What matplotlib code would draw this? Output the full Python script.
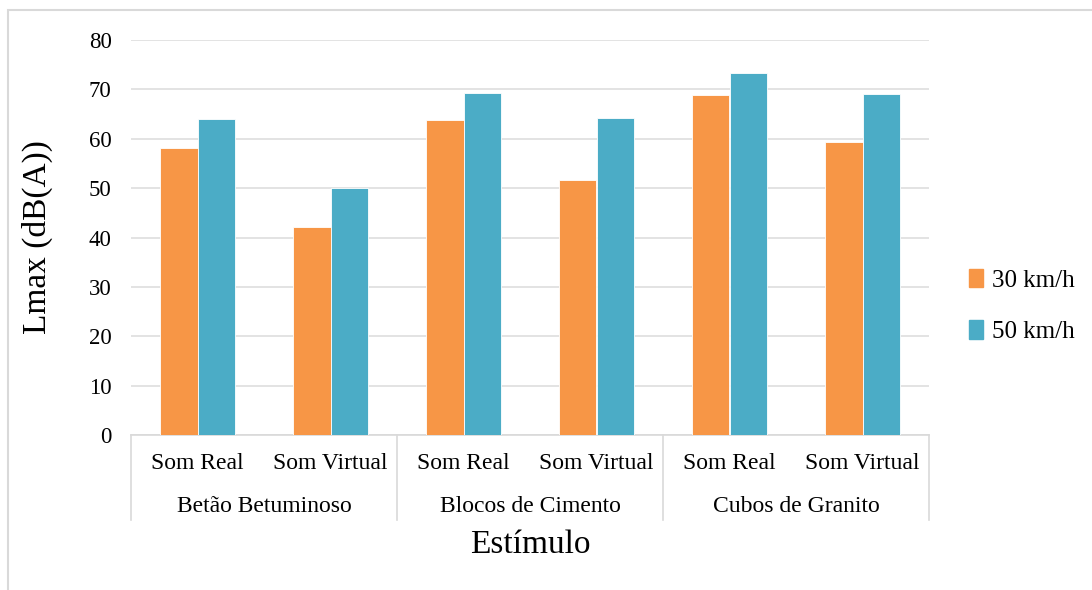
import matplotlib.pyplot as plt
import matplotlib.patches as mpatches
import numpy as np

plt.rcParams['font.family'] = ['Liberation Serif', 'DejaVu Serif']

grupos = ["Betão Betuminoso", "Blocos de Cimento", "Cubos de Granito"]
estimulos = ["Som Real", "Som Virtual"] * 3
v30 = [58.1, 42.2, 63.8, 51.6, 68.8, 59.4]
v50 = [64.0, 50.0, 69.3, 64.3, 73.4, 69.1]
series = ["30 km/h", "50 km/h"]

laranja = "#F79646"
azul = "#4BACC6"

W, H = 1092, 590
fig = plt.figure(figsize=(W / 100, H / 100), dpi=100)
ax = fig.add_axes([131 / W, 1 - 435 / H, 798 / W, 395 / H])

x = np.arange(len(estimulos))
w = 0.282
ax.bar(x - w / 2, v30, w, color=laranja, edgecolor="white", linewidth=0.6, label=series[0], zorder=3)
ax.bar(x + w / 2, v50, w, color=azul, edgecolor="white", linewidth=0.6, label=series[1], zorder=3)

ax.set_xlim(-0.5, len(estimulos) - 0.5)
ax.set_ylim(0, 80)
ax.set_yticks(range(0, 81, 10))
ax.yaxis.grid(True, color="#dedede", linewidth=1.2, zorder=0)
ax.tick_params(axis="y", length=0, labelsize=16.5, pad=14)
ax.set_xticks([])
for s in ["top", "right", "left"]:
    ax.spines[s].set_visible(False)
ax.spines["bottom"].set_color("#d9d9d9")
ax.spines["bottom"].set_linewidth(1.2)

trans = ax.get_xaxis_transform()
for i, lab in enumerate(estimulos):
    ax.text(i, -0.071, lab, transform=trans, ha="center", va="center", fontsize=17)
for g, nome in enumerate(grupos):
    ax.text(2 * g + 0.5, -0.18, nome, transform=trans, ha="center", va="center", fontsize=17)
for xs in [-0.5, 1.5, 3.5, 5.5]:
    ax.plot([xs, xs], [0, -0.215], transform=trans, color="#d9d9d9", linewidth=1.2, clip_on=False)

ax.text(2.5, -0.278, "Estímulo", transform=trans, ha="center", va="center", fontsize=24)
fig.text(37 / W, 1 - 237 / H, "Lmax (dB(A))", rotation=90, ha="center", va="center", fontsize=24)

h = [mpatches.Patch(color=laranja), mpatches.Patch(color=azul)]
fig.legend(h, series, loc="center left", bbox_to_anchor=(969 / W, 1 - 306 / H), frameon=False,
           fontsize=18, handlelength=0.55, handleheight=0.75, handletextpad=0.35, labelspacing=1.15,
           borderpad=0, borderaxespad=0)

fig.patches.append(mpatches.Rectangle((8 / W, -0.1), 1.1, 1.1 - 10 / H, transform=fig.transFigure,
                                      fill=False, edgecolor="#d9d9d9", linewidth=1.5))

fig.savefig("out.png", dpi=100)
